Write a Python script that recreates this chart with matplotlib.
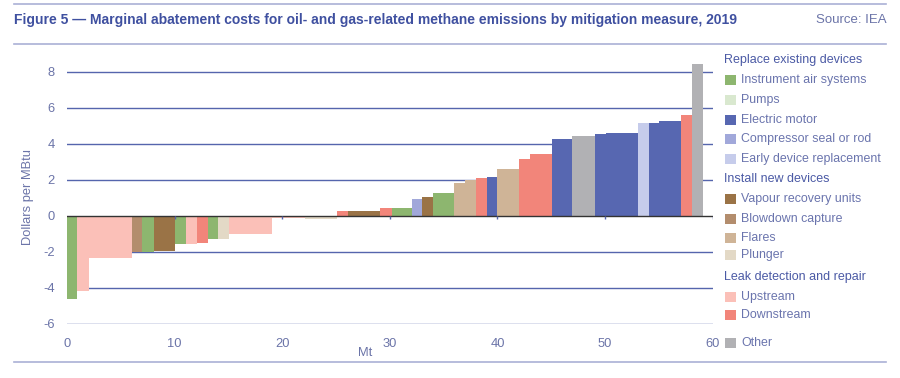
import numpy as np
import matplotlib.pyplot as plt
from matplotlib.patches import Rectangle

plt.rcParams['font.family'] = ['Liberation Sans', 'DejaVu Sans']

# legend groups / categories
groups = ["Replace existing devices", "Install new devices", "Leak detection and repair", None]
group_items = [
    ["Instrument air systems", "Pumps", "Electric motor", "Compressor seal or rod", "Early device replacement"],
    ["Vapour recovery units", "Blowdown capture", "Flares", "Plunger"],
    ["Upstream", "Downstream"],
    ["Other"],
]
colors = {
    "Instrument air systems": "#8db66f",
    "Pumps": "#d9e8cf",
    "Electric motor": "#5767b1",
    "Compressor seal or rod": "#a1a8da",
    "Early device replacement": "#c6cceb",
    "Vapour recovery units": "#9a7346",
    "Blowdown capture": "#b38d6d",
    "Flares": "#cfb497",
    "Plunger": "#e3d9c6",
    "Upstream": "#fbc0b8",
    "Downstream": "#f2857a",
    "Other": "#b1b1b4",
}

# bars (Mt width, $/MBtu)
widths = [0.96, 1.08, 4.03, 0.93, 1.09, 1.95, 0.99, 1.02, 1.03, 0.92, 1.06, 3.96, 3.10,
          2.94, 1.08, 2.95, 1.09, 1.85, 0.92, 1.04, 1.98, 1.02, 0.99, 1.02, 0.93, 2.08,
          1.02, 2.02, 1.91, 2.11, 0.99, 2.98, 1.05, 0.93, 2.01, 1.03, 1.02]
costs = [-4.64, -4.17, -2.37, -2.0, -2.02, -1.97, -1.55, -1.57, -1.5, -1.27, -1.3, -1.02, -0.15,
         -0.18, 0.28, 0.28, 0.45, 0.45, 0.93, 1.06, 1.24, 1.8, 1.98, 2.11, 2.13, 2.6,
         3.13, 3.41, 4.26, 4.44, 4.55, 4.6, 5.17, 5.13, 5.24, 5.59, 8.43]
measures = ["Instrument air systems", "Upstream", "Upstream", "Blowdown capture", "Instrument air systems",
            "Vapour recovery units", "Instrument air systems", "Upstream", "Downstream",
            "Instrument air systems", "Plunger", "Upstream", "Upstream", "Plunger", "Downstream",
            "Vapour recovery units", "Downstream", "Instrument air systems", "Compressor seal or rod",
            "Vapour recovery units", "Instrument air systems", "Flares", "Flares", "Downstream",
            "Electric motor", "Flares", "Downstream", "Downstream", "Electric motor", "Other",
            "Electric motor", "Electric motor", "Early device replacement", "Electric motor",
            "Electric motor", "Downstream", "Other"]

yticks = [-6, -4, -2, 0, 2, 4, 6, 8]
xticks = [0, 10, 20, 30, 40, 50, 60]

W, H = 900, 378
fig = plt.figure(figsize=(9, 3.78), dpi=100)

def px(x, y):
    return x / W, 1 - y / H

ax = fig.add_axes([67 / W, 1 - 323.7 / H, (712.7 - 67) / W, (323.7 - 62.7) / H])

grid_c = "#5565ad"
txt_c = "#6b74a8"
for y in yticks:
    if y != 0:
        ax.axhline(y, color=grid_c, lw=1.0, zorder=1)

lefts = np.concatenate([[0], np.cumsum(widths)[:-1]])
ax.bar(lefts, costs, width=widths, align='edge',
       color=[colors[m] for m in measures], linewidth=0, zorder=2)

ax.axhline(0, color="#333333", lw=1.0, zorder=3)
ax.vlines(xticks[1:], -0.18, 0, color=grid_c, lw=1.0, zorder=3)

ax.set_xlim(0, 60)
ax.set_ylim(-6, 8.5)
for s in ax.spines.values():
    s.set_visible(False)
ax.set_yticks(yticks)
ax.set_yticklabels([str(v) for v in yticks])
ax.set_xticks(xticks)
ax.tick_params(axis='both', length=0, labelsize=9.3, colors=txt_c)
ax.tick_params(axis='y', pad=9)
ax.tick_params(axis='x', pad=10)
ax.patch.set_alpha(0)

fig.text(*px(365, 353), "Mt", ha='center', va='center', fontsize=9.3, color=txt_c)
fig.text(*px(28, 197), "Dollars per MBtu", rotation=90, ha='center', va='center',
         fontsize=9.3, color=txt_c)

# title and rules
title_c = "#3f50a0"
fig.text(*px(14, 20), "Figure 5 \u2014 Marginal abatement costs for oil- and gas-related methane emissions by mitigation measure, 2019",
         ha='left', va='center', fontsize=10, fontweight='bold', color=title_c)
fig.text(*px(887, 20), "Source: IEA", ha='right', va='center', fontsize=9.5, color=txt_c)
for yy in [4, 43.5, 362]:
    fig.add_artist(plt.Line2D([14 / W, 886 / W], [1 - yy / H] * 2, color="#aab0d6", lw=1.2))

# legend
head_c = "#4b5aa5"
item_c = "#6a74ad"
head_y = [60, 179, 277, None]
item_y = [[80, 100, 120, 139, 159], [199, 219, 238, 255], [297, 315], [343]]
for g, hy, items, iys in zip(groups, head_y, group_items, item_y):
    if g is not None:
        fig.text(*px(724, hy), g, ha='left', va='center', fontsize=9, color=head_c)
    for name, iy in zip(items, iys):
        x0, y0 = px(725, iy + 5)
        fig.add_artist(Rectangle((x0, y0), 11 / W, 10 / H, facecolor=colors[name],
                                 edgecolor='none', transform=fig.transFigure))
        fig.text(*px(741, iy), name, ha='left', va='center', fontsize=8.9, color=item_c)

fig.savefig("out.png", dpi=100)
